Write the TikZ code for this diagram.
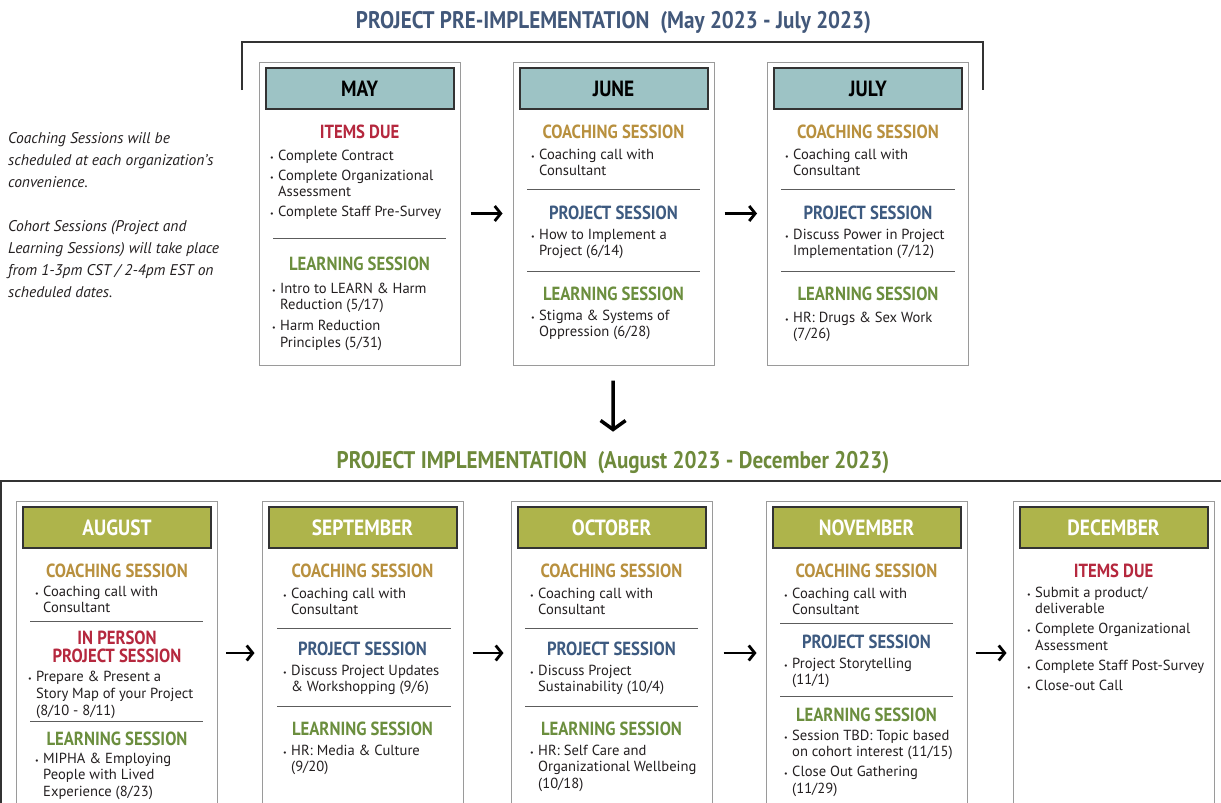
\documentclass[tikz,border=0pt]{standalone}
\usepackage{fontspec}
\setmainfont{PT Sans}
\newfontfamily\headfont[FakeStretch=0.88]{PT Sans}
\usetikzlibrary{arrows.meta}

\definecolor{headteal}{HTML}{9DC3C5}
\definecolor{headolive}{HTML}{AEB44B}
\definecolor{duered}{HTML}{B5283E}
\definecolor{coachgold}{HTML}{B8903E}
\definecolor{projblue}{HTML}{3D5A80}
\definecolor{learngreen}{HTML}{6B8E3E}
\definecolor{pretitle}{HTML}{42587A}
\definecolor{impltitle}{HTML}{6E8A3B}
\definecolor{boxgray}{HTML}{9A9A9A}
\definecolor{darkline}{HTML}{333333}
\definecolor{bodytext}{HTML}{231F20}

% bullet lists: bullet column + text column
\newcommand{\bu}{\makebox[8pt][l]{\fontsize{8}{8}\selectfont\textbullet}}
\newcommand{\blist}[1]{\begin{tabular}[t]{@{}l@{}l@{}}#1\end{tabular}}

\tikzset{
  monthbox/.style={draw=boxgray, line width=1pt, minimum width=201pt, inner sep=0pt},
  monthhead/.style={draw=darkline, line width=2pt, minimum width=188pt, minimum height=41pt, inner sep=0pt,
    font=\headfont\bfseries\fontsize{22}{22}\selectfont},
  sechead/.style={anchor=base, inner sep=0pt, font=\headfont\bfseries\fontsize{19}{19}\selectfont},
  itemlist/.style={anchor=base west, inner sep=0pt, text=bodytext, font=\fontsize{14.6}{16.5}\selectfont},
  bigtitle/.style={anchor=base, inner sep=0pt, font=\headfont\bfseries\fontsize{24}{24}\selectfont},
  sepline/.style={draw=darkline!80, line width=0.8pt},
  flow/.style={-{Straight Barb[length=6pt,width=15pt]}, line width=2.8pt, black},
}

\begin{document}
\begin{tikzpicture}[x=1pt,y=-1pt]
\useasboundingbox (0,0) rectangle (1221,803);

% titles and frames
\node[bigtitle, text=pretitle] (pre) at (613.5,28) {PROJECT PRE-IMPLEMENTATION\ \ (May 2023 - July 2023)};
\draw[darkline, line width=2pt] (242,90) |- (983,42) -- (983,90);
\node[bigtitle, text=impltitle] (impl) at (613,468) {PROJECT IMPLEMENTATION\ \ (August 2023 - December 2023)};
\draw[darkline, line width=2.5pt] (0,481) -- (1221,481);
\draw[darkline, line width=1.5pt] (0.75,481) -- (0.75,803);

% note
\node[anchor=base west, inner sep=0pt, text=bodytext,
  font=\itshape\fontsize{15.5}{22}\selectfont] (note) at (8,143)
  {\begin{tabular}[t]{@{}l@{}}Coaching Sessions will be\\scheduled at each organization's\\convenience.\\[22pt]Cohort Sessions (Project and\\Learning Sessions) will take place\\from 1-3pm CST / 2-4pm EST on\\scheduled dates.\end{tabular}};

% month boxes
\foreach \n/\t/\x in {may/MAY/359.5, june/JUNE/613.5, july/JULY/868}{
  \node[monthbox, minimum height=303pt] (\n) at (\x,213.5) {};
  \node[monthhead, fill=headteal, text=black] (\n-head) at (\x,88.5) {\t};
}
\foreach \n/\t/\x in {aug/AUGUST/117, sep/SEPTEMBER/362.5, oct/OCTOBER/611.5, nov/NOVEMBER/866.5, dec/DECEMBER/1113.5}{
  \node[monthbox, minimum height=304pt] (\n) at (\x,653) {};
  \node[monthhead, fill=headolive, text=white] (\n-head) at (\x,527.5) {\t};
}

% May
\node[sechead, text=duered] (may-due) at (359.5,138) {ITEMS DUE};
\node[itemlist] (may-due-list) at (270,160) {\blist{\bu & Complete Contract\\[3.5pt] \bu & Complete Organizational\\ & Assessment\\[3.5pt] \bu & Complete Staff Pre-Survey}};
\draw[sepline] (273,238) -- (446,238);
\node[sechead, text=learngreen] (may-learn) at (359.5,270) {LEARNING SESSION};
\node[itemlist] (may-learn-list) at (272,293) {\blist{\bu & Intro to LEARN \& Harm\\ & Reduction (5/17)\\[4.5pt] \bu & Harm Reduction\\ & Principles (5/31)}};

% June
\node[sechead, text=coachgold] (june-coach) at (613.5,138) {COACHING SESSION};
\node[itemlist] (june-coach-list) at (531,159) {\blist{\bu & Coaching call with\\ & Consultant}};
\draw[sepline] (527,189) -- (700,189);
\node[sechead, text=projblue] (june-proj) at (613.5,219) {PROJECT SESSION};
\node[itemlist] (june-proj-list) at (531,239) {\blist{\bu & How to Implement a\\ & Project (6/14)}};
\draw[sepline] (527,271) -- (700,271);
\node[sechead, text=learngreen] (june-learn) at (613.5,300) {LEARNING SESSION};
\node[itemlist] (june-learn-list) at (531,320) {\blist{\bu & Stigma \& Systems of\\ & Oppression (6/28)}};

% July
\node[sechead, text=coachgold] (july-coach) at (868,138) {COACHING SESSION};
\node[itemlist] (july-coach-list) at (785,159) {\blist{\bu & Coaching call with\\ & Consultant}};
\draw[sepline] (781,189) -- (955,189);
\node[sechead, text=projblue] (july-proj) at (868,219) {PROJECT SESSION};
\node[itemlist] (july-proj-list) at (785,239) {\blist{\bu & Discuss Power in Project\\ & Implementation (7/12)}};
\draw[sepline] (781,271) -- (955,271);
\node[sechead, text=learngreen] (july-learn) at (868,300) {LEARNING SESSION};
\node[itemlist] (july-learn-list) at (785,322) {\blist{\bu & HR: Drugs \& Sex Work\\ & (7/26)}};

% August
\node[sechead, text=coachgold] (aug-coach) at (117,577) {COACHING SESSION};
\node[itemlist] (aug-coach-list) at (35,596) {\blist{\bu & Coaching call with\\ & Consultant}};
\draw[sepline] (30,621) -- (203,621);
\node[sechead, text=duered] (aug-proj) at (117,644) {IN PERSON};
\node[sechead, text=duered] (aug-proj2) at (117,662) {PROJECT SESSION};
\node[itemlist, font=\fontsize{14.6}{17}\selectfont] (aug-proj-list) at (28,681) {\blist{\bu & Prepare \& Present a\\ & Story Map of your Project\\ & (8/10 - 8/11)}};
\draw[sepline] (30,721) -- (203,721);
\node[sechead, text=learngreen] (aug-learn) at (117,745) {LEARNING SESSION};
\node[itemlist] (aug-learn-list) at (35,763) {\blist{\bu & MIPHA \& Employing\\ & People with Lived\\ & Experience (8/23)}};

% September
\node[sechead, text=coachgold] (sep-coach) at (362.5,577) {COACHING SESSION};
\node[itemlist] (sep-coach-list) at (283,598) {\blist{\bu & Coaching call with\\ & Consultant}};
\draw[sepline] (277,628) -- (451,628);
\node[sechead, text=projblue] (sep-proj) at (362.5,655) {PROJECT SESSION};
\node[itemlist] (sep-proj-list) at (283,675) {\blist{\bu & Discuss Project Updates\\ & \& Workshopping (9/6)}};
\draw[sepline] (277,706) -- (451,706);
\node[sechead, text=learngreen] (sep-learn) at (362.5,735) {LEARNING SESSION};
\node[itemlist] (sep-learn-list) at (283,755) {\blist{\bu & HR: Media \& Culture\\ & (9/20)}};

% October
\node[sechead, text=coachgold] (oct-coach) at (611.5,577) {COACHING SESSION};
\node[itemlist] (oct-coach-list) at (530,598) {\blist{\bu & Coaching call with\\ & Consultant}};
\draw[sepline] (525,628) -- (698,628);
\node[sechead, text=projblue] (oct-proj) at (611.5,655) {PROJECT SESSION};
\node[itemlist] (oct-proj-list) at (530,675) {\blist{\bu & Discuss Project\\ & Sustainability (10/4)}};
\draw[sepline] (525,706) -- (698,706);
\node[sechead, text=learngreen] (oct-learn) at (611.5,735) {LEARNING SESSION};
\node[itemlist] (oct-learn-list) at (530,755) {\blist{\bu & HR: Self Care and\\ & Organizational Wellbeing\\ & (10/18)}};

% November
\node[sechead, text=coachgold] (nov-coach) at (866.5,577) {COACHING SESSION};
\node[itemlist] (nov-coach-list) at (784,598) {\blist{\bu & Coaching call with\\ & Consultant}};
\draw[sepline] (780,623) -- (953,623);
\node[sechead, text=projblue] (nov-proj) at (866.5,648) {PROJECT SESSION};
\node[itemlist] (nov-proj-list) at (784,668) {\blist{\bu & Project Storytelling\\ & (11/1)}};
\draw[sepline] (780,696) -- (953,696);
\node[sechead, text=learngreen] (nov-learn) at (866.5,721) {LEARNING SESSION};
\node[itemlist] (nov-learn-list) at (784,740) {\blist{\bu & Session TBD: Topic based\\ & on cohort interest (11/15)\\[3.5pt] \bu & Close Out Gathering\\ & (11/29)}};

% December
\node[sechead, text=duered] (dec-due) at (1113.5,577) {ITEMS DUE};
\node[itemlist] (dec-due-list) at (1027,597) {\blist{\bu & Submit a product/\\ & deliverable\\[3.5pt] \bu & Complete Organizational\\ & Assessment\\[3.5pt] \bu & Complete Staff Post-Survey\\[3.5pt] \bu & Close-out Call}};

% arrows
\draw[flow, shorten <=10pt, shorten >=10pt] (may) -- (june);
\draw[flow, shorten <=10pt, shorten >=10pt] (june) -- (july);
\draw[flow, line width=3.5pt, -{Straight Barb[length=9pt,width=25pt]}, shorten <=15pt, shorten >=19pt] (june) -- (impl);
\draw[flow, shorten <=8pt, shorten >=7pt] (aug) -- (sep);
\draw[flow, shorten <=9pt, shorten >=7pt] (sep) -- (oct);
\draw[flow, shorten <=11pt, shorten >=9pt] (oct) -- (nov);
\draw[flow, shorten <=8pt, shorten >=6pt] (nov) -- (dec);
\end{tikzpicture}
\end{document}
